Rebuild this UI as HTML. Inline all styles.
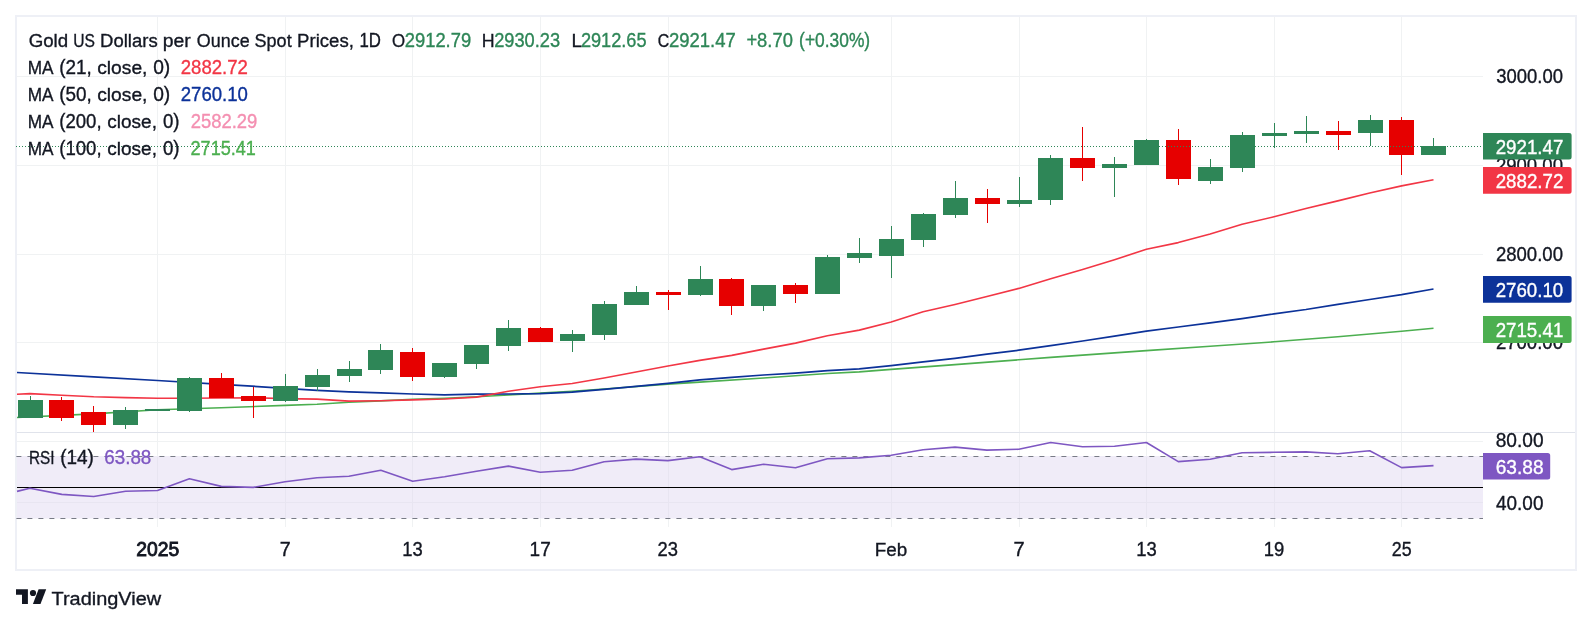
<!DOCTYPE html><html><head><meta charset="utf-8"><title>Gold Chart</title>
<style>html,body{margin:0;padding:0;background:#fff;}svg{display:block;will-change:transform;}text{font-family:"Liberation Sans",sans-serif;}</style></head><body>
<svg width="1592" height="625" viewBox="0 0 1592 625">
<rect width="1592" height="625" fill="#fff"/>
<g fill="#f0f2f3" shape-rendering="crispEdges">
<rect x="157" y="17" width="1" height="510"/>
<rect x="285" y="17" width="1" height="510"/>
<rect x="412" y="17" width="1" height="510"/>
<rect x="540" y="17" width="1" height="510"/>
<rect x="668" y="17" width="1" height="510"/>
<rect x="891" y="17" width="1" height="510"/>
<rect x="1019" y="17" width="1" height="510"/>
<rect x="1146" y="17" width="1" height="510"/>
<rect x="1274" y="17" width="1" height="510"/>
<rect x="1401" y="17" width="1" height="510"/>
<rect x="17" y="76" width="1466" height="1"/>
<rect x="17" y="165" width="1466" height="1"/>
<rect x="17" y="254" width="1466" height="1"/>
<rect x="17" y="342" width="1466" height="1"/>
<rect x="17" y="441" width="1466" height="1"/>
<rect x="17" y="502" width="1466" height="1"/>
</g>
<rect x="17" y="456" width="1466" height="62.5" fill="#f0ecf8"/>
<g fill="#e8e5f1" shape-rendering="crispEdges">
<rect x="157" y="457" width="1" height="61"/>
<rect x="285" y="457" width="1" height="61"/>
<rect x="412" y="457" width="1" height="61"/>
<rect x="540" y="457" width="1" height="61"/>
<rect x="668" y="457" width="1" height="61"/>
<rect x="891" y="457" width="1" height="61"/>
<rect x="1019" y="457" width="1" height="61"/>
<rect x="1146" y="457" width="1" height="61"/>
<rect x="1274" y="457" width="1" height="61"/>
<rect x="1401" y="457" width="1" height="61"/>
<rect x="17" y="502" width="1466" height="1"/>
</g>
<rect x="17" y="432" width="1559" height="1" fill="#e0e3eb"/>
<rect x="16" y="16" width="1560" height="554" fill="none" stroke="#eef0f6" stroke-width="2"/>
<g stroke="#787b86" stroke-width="1" stroke-dasharray="5 6" fill="none"><path d="M16.4 456.5H1483"/><path d="M16.4 518.5H1483"/></g>
<rect x="17" y="487" width="1466" height="1" fill="#000"/>
<g fill="none" stroke-linejoin="round" stroke-linecap="butt">
<polyline stroke="#4caf50" stroke-width="1.6" points="17.0,417.5 93.7,413.9 157.5,409.8 221.3,407.8 285.1,405.4 317.0,404.3 348.9,402.3 380.8,400.9 412.7,399.3 444.6,398.4 476.5,396.8 508.4,395.0 540.3,393.1 572.2,391.3 604.1,389.0 667.9,384.1 699.8,382.1 763.6,378.0 827.4,373.5 859.3,371.9 891.2,369.4 955.0,364.6 1018.8,359.8 1050.7,357.4 1146.4,350.6 1210.2,346.2 1274.0,341.8 1337.8,336.8 1401.6,331.2 1433.5,328.3"/>
<polyline stroke="#0c3299" stroke-width="1.7" points="17.0,372.5 93.7,376.8 157.5,380.5 221.3,384.3 285.1,388.3 317.0,390.4 348.9,391.8 380.8,392.8 412.7,394.0 444.6,394.8 476.5,394.2 508.4,394.0 540.3,393.6 572.2,392.1 604.1,389.4 636.0,386.3 667.9,383.3 699.8,379.9 731.7,377.3 763.6,375.0 795.5,373.1 827.4,370.7 859.3,368.9 891.2,365.6 923.1,361.8 955.0,358.3 986.9,354.1 1018.8,350.2 1050.7,345.6 1082.6,341.0 1114.5,336.2 1146.4,331.1 1178.3,327.0 1210.2,322.8 1242.1,318.6 1274.0,313.9 1305.9,309.5 1337.8,304.3 1369.7,299.5 1401.6,294.7 1433.5,289.0"/>
<polyline stroke="#f23645" stroke-width="1.6" points="17.0,394.2 29.9,393.6 61.8,395.2 93.7,396.8 125.6,397.6 157.5,398.2 189.4,398.3 221.3,398.0 253.2,397.8 285.1,398.6 317.0,399.1 348.9,401.1 380.8,400.7 412.7,399.9 444.6,399.0 476.5,397.1 508.4,391.2 540.3,386.8 572.2,383.5 604.1,378.0 636.0,372.0 667.9,366.0 699.8,360.4 731.7,355.4 763.6,349.1 795.5,343.1 827.4,335.8 859.3,330.1 891.2,322.0 923.1,311.8 955.0,304.5 986.9,296.5 1018.8,288.4 1050.7,278.8 1082.6,269.5 1114.5,259.7 1146.4,249.3 1178.3,242.6 1210.2,233.9 1242.1,224.3 1274.0,216.8 1305.9,208.6 1337.8,200.9 1369.7,193.0 1401.6,185.9 1433.5,179.8"/>
<polyline stroke="#7e57c2" stroke-width="1.6" points="17.0,491.4 29.9,488.3 61.8,494.4 93.7,496.5 125.6,491.2 157.5,490.5 189.4,478.8 221.3,486.4 253.2,487.4 285.1,481.8 317.0,477.8 348.9,476.2 380.8,470.2 412.7,481.2 444.6,476.8 476.5,471.2 508.4,466.1 540.3,472.2 572.2,470.2 604.1,461.8 636.0,459.1 667.9,460.6 699.8,456.7 731.7,469.6 763.6,464.2 795.5,467.8 827.4,458.7 859.3,457.9 891.2,455.2 923.1,449.7 955.0,447.1 986.9,450.1 1018.8,449.3 1050.7,442.5 1082.6,446.7 1114.5,446.3 1146.4,442.5 1178.3,461.6 1210.2,459.2 1242.1,452.7 1274.0,452.3 1305.9,451.9 1337.8,453.7 1369.7,450.7 1401.6,467.6 1433.5,465.6"/>
</g>
<g shape-rendering="crispEdges">
<rect x="30" y="396" width="1" height="22" fill="#2e8657"/><rect x="18" y="400" width="25" height="18" fill="#2e8657"/>
<rect x="61" y="397" width="1" height="24" fill="#e60000"/><rect x="49" y="400" width="25" height="18" fill="#e60000"/>
<rect x="93" y="406" width="1" height="26" fill="#e60000"/><rect x="81" y="412" width="25" height="13" fill="#e60000"/>
<rect x="125" y="407" width="1" height="22" fill="#2e8657"/><rect x="113" y="410" width="25" height="15" fill="#2e8657"/>
<rect x="157" y="409" width="1" height="2" fill="#2e8657"/><rect x="145" y="409" width="25" height="2" fill="#2e8657"/>
<rect x="189" y="377" width="1" height="35" fill="#2e8657"/><rect x="177" y="378" width="25" height="33" fill="#2e8657"/>
<rect x="221" y="373" width="1" height="25" fill="#e60000"/><rect x="209" y="378" width="25" height="20" fill="#e60000"/>
<rect x="253" y="387" width="1" height="31" fill="#e60000"/><rect x="241" y="396" width="25" height="5" fill="#e60000"/>
<rect x="285" y="374" width="1" height="28" fill="#2e8657"/><rect x="273" y="386" width="25" height="15" fill="#2e8657"/>
<rect x="317" y="369" width="1" height="22" fill="#2e8657"/><rect x="305" y="375" width="25" height="12" fill="#2e8657"/>
<rect x="349" y="361" width="1" height="21" fill="#2e8657"/><rect x="337" y="369" width="25" height="7" fill="#2e8657"/>
<rect x="380" y="344" width="1" height="30" fill="#2e8657"/><rect x="368" y="350" width="25" height="20" fill="#2e8657"/>
<rect x="412" y="348" width="1" height="33" fill="#e60000"/><rect x="400" y="352" width="25" height="25" fill="#e60000"/>
<rect x="444" y="363" width="1" height="15" fill="#2e8657"/><rect x="432" y="363" width="25" height="14" fill="#2e8657"/>
<rect x="476" y="345" width="1" height="24" fill="#2e8657"/><rect x="464" y="345" width="25" height="19" fill="#2e8657"/>
<rect x="508" y="320" width="1" height="31" fill="#2e8657"/><rect x="496" y="328" width="25" height="18" fill="#2e8657"/>
<rect x="540" y="327" width="1" height="15" fill="#e60000"/><rect x="528" y="328" width="25" height="14" fill="#e60000"/>
<rect x="572" y="330" width="1" height="22" fill="#2e8657"/><rect x="560" y="334" width="25" height="7" fill="#2e8657"/>
<rect x="604" y="301" width="1" height="39" fill="#2e8657"/><rect x="592" y="304" width="25" height="31" fill="#2e8657"/>
<rect x="636" y="286" width="1" height="19" fill="#2e8657"/><rect x="624" y="292" width="25" height="13" fill="#2e8657"/>
<rect x="668" y="290" width="1" height="20" fill="#e60000"/><rect x="656" y="292" width="25" height="3" fill="#e60000"/>
<rect x="700" y="266" width="1" height="30" fill="#2e8657"/><rect x="688" y="279" width="25" height="16" fill="#2e8657"/>
<rect x="731" y="278" width="1" height="37" fill="#e60000"/><rect x="719" y="279" width="25" height="27" fill="#e60000"/>
<rect x="763" y="285" width="1" height="26" fill="#2e8657"/><rect x="751" y="285" width="25" height="21" fill="#2e8657"/>
<rect x="795" y="283" width="1" height="20" fill="#e60000"/><rect x="783" y="285" width="25" height="9" fill="#e60000"/>
<rect x="827" y="255" width="1" height="39" fill="#2e8657"/><rect x="815" y="257" width="25" height="37" fill="#2e8657"/>
<rect x="859" y="238" width="1" height="25" fill="#2e8657"/><rect x="847" y="253" width="25" height="5" fill="#2e8657"/>
<rect x="891" y="226" width="1" height="52" fill="#2e8657"/><rect x="879" y="239" width="25" height="17" fill="#2e8657"/>
<rect x="923" y="213" width="1" height="34" fill="#2e8657"/><rect x="911" y="214" width="25" height="26" fill="#2e8657"/>
<rect x="955" y="181" width="1" height="37" fill="#2e8657"/><rect x="943" y="198" width="25" height="17" fill="#2e8657"/>
<rect x="987" y="189" width="1" height="34" fill="#e60000"/><rect x="975" y="198" width="25" height="6" fill="#e60000"/>
<rect x="1019" y="177" width="1" height="30" fill="#2e8657"/><rect x="1007" y="200" width="25" height="4" fill="#2e8657"/>
<rect x="1050" y="155" width="1" height="50" fill="#2e8657"/><rect x="1038" y="158" width="25" height="42" fill="#2e8657"/>
<rect x="1082" y="127" width="1" height="54" fill="#e60000"/><rect x="1070" y="158" width="25" height="10" fill="#e60000"/>
<rect x="1114" y="157" width="1" height="40" fill="#2e8657"/><rect x="1102" y="164" width="25" height="4" fill="#2e8657"/>
<rect x="1146" y="139" width="1" height="26" fill="#2e8657"/><rect x="1134" y="140" width="25" height="25" fill="#2e8657"/>
<rect x="1178" y="129" width="1" height="56" fill="#e60000"/><rect x="1166" y="140" width="25" height="39" fill="#e60000"/>
<rect x="1210" y="159" width="1" height="25" fill="#2e8657"/><rect x="1198" y="167" width="25" height="14" fill="#2e8657"/>
<rect x="1242" y="132" width="1" height="40" fill="#2e8657"/><rect x="1230" y="135" width="25" height="33" fill="#2e8657"/>
<rect x="1274" y="123" width="1" height="25" fill="#2e8657"/><rect x="1262" y="133" width="25" height="3" fill="#2e8657"/>
<rect x="1306" y="116" width="1" height="27" fill="#2e8657"/><rect x="1294" y="131" width="25" height="3" fill="#2e8657"/>
<rect x="1338" y="121" width="1" height="29" fill="#e60000"/><rect x="1326" y="131" width="25" height="4" fill="#e60000"/>
<rect x="1370" y="115" width="1" height="31" fill="#2e8657"/><rect x="1358" y="120" width="25" height="13" fill="#2e8657"/>
<rect x="1401" y="117" width="1" height="58" fill="#e60000"/><rect x="1389" y="120" width="25" height="35" fill="#e60000"/>
<rect x="1433" y="138" width="1" height="17" fill="#2e8657"/><rect x="1421" y="146" width="25" height="9" fill="#2e8657"/>
</g>
<path d="M16 146.5H1482" stroke="#2e8657" stroke-width="1" stroke-dasharray="1 2" fill="none" shape-rendering="crispEdges"/>
<text x="28.65" y="46.7" font-size="19.2" fill="#131722" stroke="#131722" stroke-width="0.35" textLength="39.49" lengthAdjust="spacingAndGlyphs">Gold</text>
<text x="73.22" y="46.7" font-size="19.2" fill="#131722" stroke="#131722" stroke-width="0.35" textLength="21.70" lengthAdjust="spacingAndGlyphs">US</text>
<text x="100.12" y="46.7" font-size="19.2" fill="#131722" stroke="#131722" stroke-width="0.35" textLength="57.53" lengthAdjust="spacingAndGlyphs">Dollars</text>
<text x="162.78" y="46.7" font-size="19.2" fill="#131722" stroke="#131722" stroke-width="0.35" textLength="28.02" lengthAdjust="spacingAndGlyphs">per</text>
<text x="196.86" y="46.7" font-size="19.2" fill="#131722" stroke="#131722" stroke-width="0.35" textLength="52.76" lengthAdjust="spacingAndGlyphs">Ounce</text>
<text x="254.57" y="46.7" font-size="19.2" fill="#131722" stroke="#131722" stroke-width="0.35" textLength="37.11" lengthAdjust="spacingAndGlyphs">Spot</text>
<text x="297.08" y="46.7" font-size="19.2" fill="#131722" stroke="#131722" stroke-width="0.35" textLength="56.76" lengthAdjust="spacingAndGlyphs">Prices,</text>
<text x="359.50" y="46.7" font-size="19.6" fill="#131722" stroke="#131722" stroke-width="0.35" textLength="21.49" lengthAdjust="spacingAndGlyphs">1D</text>
<text x="392.00" y="46.7" font-size="19.2" fill="#131722" stroke="#131722" stroke-width="0.35" textLength="13.10" lengthAdjust="spacingAndGlyphs">O</text>
<text x="481.73" y="46.7" font-size="19.2" fill="#131722" stroke="#131722" stroke-width="0.35" textLength="12.83" lengthAdjust="spacingAndGlyphs">H</text>
<text x="571.38" y="46.7" font-size="19.2" fill="#131722" stroke="#131722" stroke-width="0.35" textLength="10.52" lengthAdjust="spacingAndGlyphs">L</text>
<text x="657.79" y="46.7" font-size="19.2" fill="#131722" stroke="#131722" stroke-width="0.35" textLength="11.45" lengthAdjust="spacingAndGlyphs">C</text>
<text x="404.77" y="46.7" font-size="19.6" fill="#2e8657" stroke="#2e8657" stroke-width="0.35" textLength="66.38" lengthAdjust="spacingAndGlyphs">2912.79</text>
<text x="494.17" y="46.7" font-size="19.6" fill="#2e8657" stroke="#2e8657" stroke-width="0.35" textLength="65.98" lengthAdjust="spacingAndGlyphs">2930.23</text>
<text x="580.89" y="46.7" font-size="19.6" fill="#2e8657" stroke="#2e8657" stroke-width="0.35" textLength="65.71" lengthAdjust="spacingAndGlyphs">2912.65</text>
<text x="668.95" y="46.7" font-size="19.6" fill="#2e8657" stroke="#2e8657" stroke-width="0.35" textLength="66.90" lengthAdjust="spacingAndGlyphs">2921.47</text>
<text x="746.40" y="46.7" font-size="19.6" fill="#2e8657" stroke="#2e8657" stroke-width="0.35" textLength="46.47" lengthAdjust="spacingAndGlyphs">+8.70</text>
<text x="799.10" y="46.7" font-size="19.6" fill="#2e8657" stroke="#2e8657" stroke-width="0.35" textLength="71.07" lengthAdjust="spacingAndGlyphs">(+0.30%)</text>
<text x="27.65" y="73.7" font-size="19.2" fill="#131722" stroke="#131722" stroke-width="0.35" textLength="25.79" lengthAdjust="spacingAndGlyphs">MA</text>
<text x="59.21" y="73.7" font-size="19.6" fill="#131722" stroke="#131722" stroke-width="0.35" textLength="32.57" lengthAdjust="spacingAndGlyphs">(21,</text>
<text x="97.24" y="73.7" font-size="19.2" fill="#131722" stroke="#131722" stroke-width="0.35" textLength="50.20" lengthAdjust="spacingAndGlyphs">close,</text>
<text x="153.13" y="73.7" font-size="19.6" fill="#131722" stroke="#131722" stroke-width="0.35" textLength="17.10" lengthAdjust="spacingAndGlyphs">0)</text>
<text x="180.72" y="73.7" font-size="19.6" fill="#f23645" stroke="#f23645" stroke-width="0.35" textLength="67.20" lengthAdjust="spacingAndGlyphs">2882.72</text>
<text x="27.65" y="100.6" font-size="19.2" fill="#131722" stroke="#131722" stroke-width="0.35" textLength="25.79" lengthAdjust="spacingAndGlyphs">MA</text>
<text x="59.21" y="100.6" font-size="19.6" fill="#131722" stroke="#131722" stroke-width="0.35" textLength="32.57" lengthAdjust="spacingAndGlyphs">(50,</text>
<text x="97.24" y="100.6" font-size="19.2" fill="#131722" stroke="#131722" stroke-width="0.35" textLength="50.20" lengthAdjust="spacingAndGlyphs">close,</text>
<text x="153.13" y="100.6" font-size="19.6" fill="#131722" stroke="#131722" stroke-width="0.35" textLength="17.10" lengthAdjust="spacingAndGlyphs">0)</text>
<text x="180.72" y="100.6" font-size="19.6" fill="#0c3299" stroke="#0c3299" stroke-width="0.35" textLength="67.21" lengthAdjust="spacingAndGlyphs">2760.10</text>
<text x="27.65" y="127.6" font-size="19.2" fill="#131722" stroke="#131722" stroke-width="0.35" textLength="25.79" lengthAdjust="spacingAndGlyphs">MA</text>
<text x="59.22" y="127.6" font-size="19.6" fill="#131722" stroke="#131722" stroke-width="0.35" textLength="42.40" lengthAdjust="spacingAndGlyphs">(200,</text>
<text x="107.35" y="127.6" font-size="19.2" fill="#131722" stroke="#131722" stroke-width="0.35" textLength="49.60" lengthAdjust="spacingAndGlyphs">close,</text>
<text x="162.95" y="127.6" font-size="19.6" fill="#131722" stroke="#131722" stroke-width="0.35" textLength="16.61" lengthAdjust="spacingAndGlyphs">0)</text>
<text x="190.70" y="127.6" font-size="19.6" fill="#f48fb1" stroke="#f48fb1" stroke-width="0.35" textLength="66.70" lengthAdjust="spacingAndGlyphs">2582.29</text>
<text x="27.65" y="154.5" font-size="19.2" fill="#131722" stroke="#131722" stroke-width="0.35" textLength="25.79" lengthAdjust="spacingAndGlyphs">MA</text>
<text x="59.22" y="154.5" font-size="19.6" fill="#131722" stroke="#131722" stroke-width="0.35" textLength="42.40" lengthAdjust="spacingAndGlyphs">(100,</text>
<text x="107.35" y="154.5" font-size="19.2" fill="#131722" stroke="#131722" stroke-width="0.35" textLength="49.60" lengthAdjust="spacingAndGlyphs">close,</text>
<text x="162.95" y="154.5" font-size="19.6" fill="#131722" stroke="#131722" stroke-width="0.35" textLength="16.61" lengthAdjust="spacingAndGlyphs">0)</text>
<text x="190.56" y="154.5" font-size="19.6" fill="#4caf50" stroke="#4caf50" stroke-width="0.35" textLength="65.32" lengthAdjust="spacingAndGlyphs">2715.41</text>
<text x="28.95" y="463.6" font-size="19.2" fill="#131722" stroke="#131722" stroke-width="0.35" textLength="25.51" lengthAdjust="spacingAndGlyphs">RSI</text>
<text x="60.19" y="463.6" font-size="19.6" fill="#131722" stroke="#131722" stroke-width="0.35" textLength="33.64" lengthAdjust="spacingAndGlyphs">(14)</text>
<text x="104.31" y="463.6" font-size="19.6" fill="#7e57c2" stroke="#7e57c2" stroke-width="0.35" textLength="47.00" lengthAdjust="spacingAndGlyphs">63.88</text>
<text x="1496.29" y="82.5" font-size="19.6" fill="#131722" stroke="#131722" stroke-width="0.35" textLength="66.74" lengthAdjust="spacingAndGlyphs">3000.00</text>
<text x="1495.88" y="171.7" font-size="19.6" fill="#131722" stroke="#131722" stroke-width="0.35" textLength="67.10" lengthAdjust="spacingAndGlyphs">2900.00</text>
<text x="1495.88" y="260.8" font-size="19.6" fill="#131722" stroke="#131722" stroke-width="0.35" textLength="67.10" lengthAdjust="spacingAndGlyphs">2800.00</text>
<text x="1495.88" y="349.0" font-size="19.6" fill="#131722" stroke="#131722" stroke-width="0.35" textLength="67.10" lengthAdjust="spacingAndGlyphs">2700.00</text>
<text x="1495.69" y="447.4" font-size="19.6" fill="#131722" stroke="#131722" stroke-width="0.35" textLength="47.90" lengthAdjust="spacingAndGlyphs">80.00</text>
<text x="1496.05" y="509.5" font-size="19.6" fill="#131722" stroke="#131722" stroke-width="0.35" textLength="47.39" lengthAdjust="spacingAndGlyphs">40.00</text>
<path d="M1483 133h86.1a2.5 2.5 0 0 1 2.5 2.5v21.6a2.5 2.5 0 0 1 -2.5 2.5h-86.1z" fill="#2e8657"/>
<text x="1495.66" y="153.8" font-size="19.6" fill="#fff" stroke="#fff" stroke-width="0.35" textLength="67.69" lengthAdjust="spacingAndGlyphs">2921.47</text>
<path d="M1483 167h86.1a2.5 2.5 0 0 1 2.5 2.5v21.7a2.5 2.5 0 0 1 -2.5 2.5h-86.1z" fill="#f23645"/>
<text x="1495.66" y="187.8" font-size="19.6" fill="#fff" stroke="#fff" stroke-width="0.35" textLength="67.69" lengthAdjust="spacingAndGlyphs">2882.72</text>
<path d="M1483 276h86.1a2.5 2.5 0 0 1 2.5 2.5v21.8a2.5 2.5 0 0 1 -2.5 2.5h-86.1z" fill="#0c3299"/>
<text x="1495.66" y="296.8" font-size="19.6" fill="#fff" stroke="#fff" stroke-width="0.35" textLength="67.52" lengthAdjust="spacingAndGlyphs">2760.10</text>
<path d="M1483 316h86.1a2.5 2.5 0 0 1 2.5 2.5v22a2.5 2.5 0 0 1 -2.5 2.5h-86.1z" fill="#4caf50"/>
<text x="1495.65" y="336.8" font-size="19.6" fill="#fff" stroke="#fff" stroke-width="0.35" textLength="67.66" lengthAdjust="spacingAndGlyphs">2715.41</text>
<path d="M1483 452.9h64.7a2.5 2.5 0 0 1 2.5 2.5v21.7a2.5 2.5 0 0 1 -2.5 2.5h-64.7z" fill="#7e57c2"/>
<text x="1495.67" y="473.7" font-size="19.6" fill="#fff" stroke="#fff" stroke-width="0.35" textLength="47.92" lengthAdjust="spacingAndGlyphs">63.88</text>
<text x="136.33" y="555.6" font-size="19.6" fill="#131722" stroke="#131722" stroke-width="0.85" textLength="43.05" lengthAdjust="spacingAndGlyphs">2025</text>
<text x="279.66" y="555.6" font-size="19.6" fill="#131722" stroke="#131722" stroke-width="0.35" textLength="11.00" lengthAdjust="spacingAndGlyphs">7</text>
<text x="402.18" y="555.6" font-size="19.6" fill="#131722" stroke="#131722" stroke-width="0.35" textLength="20.47" lengthAdjust="spacingAndGlyphs">13</text>
<text x="529.58" y="555.6" font-size="19.6" fill="#131722" stroke="#131722" stroke-width="0.35" textLength="21.16" lengthAdjust="spacingAndGlyphs">17</text>
<text x="657.62" y="555.6" font-size="19.6" fill="#131722" stroke="#131722" stroke-width="0.35" textLength="20.43" lengthAdjust="spacingAndGlyphs">23</text>
<text x="874.71" y="555.6" font-size="19.2" fill="#131722" stroke="#131722" stroke-width="0.35" textLength="32.45" lengthAdjust="spacingAndGlyphs">Feb</text>
<text x="1013.45" y="555.6" font-size="19.6" fill="#131722" stroke="#131722" stroke-width="0.35" textLength="11.20" lengthAdjust="spacingAndGlyphs">7</text>
<text x="1136.13" y="555.6" font-size="19.6" fill="#131722" stroke="#131722" stroke-width="0.35" textLength="20.51" lengthAdjust="spacingAndGlyphs">13</text>
<text x="1263.85" y="555.6" font-size="19.6" fill="#131722" stroke="#131722" stroke-width="0.35" textLength="20.50" lengthAdjust="spacingAndGlyphs">19</text>
<text x="1391.76" y="555.6" font-size="19.6" fill="#131722" stroke="#131722" stroke-width="0.35" textLength="19.87" lengthAdjust="spacingAndGlyphs">25</text>
<g fill="#131722"><path d="M16 589.2H27.9V603.9H22V594.8H16z"/><circle cx="33" cy="593" r="3.1"/><path d="M38.6 589.2H46.2L40.5 603.9H32.9z"/></g>
<text x="51.50" y="604.5" font-size="18.7" fill="#131722" stroke="#131722" stroke-width="0.35" textLength="109.71" lengthAdjust="spacingAndGlyphs">TradingView</text>
</svg></body></html>
